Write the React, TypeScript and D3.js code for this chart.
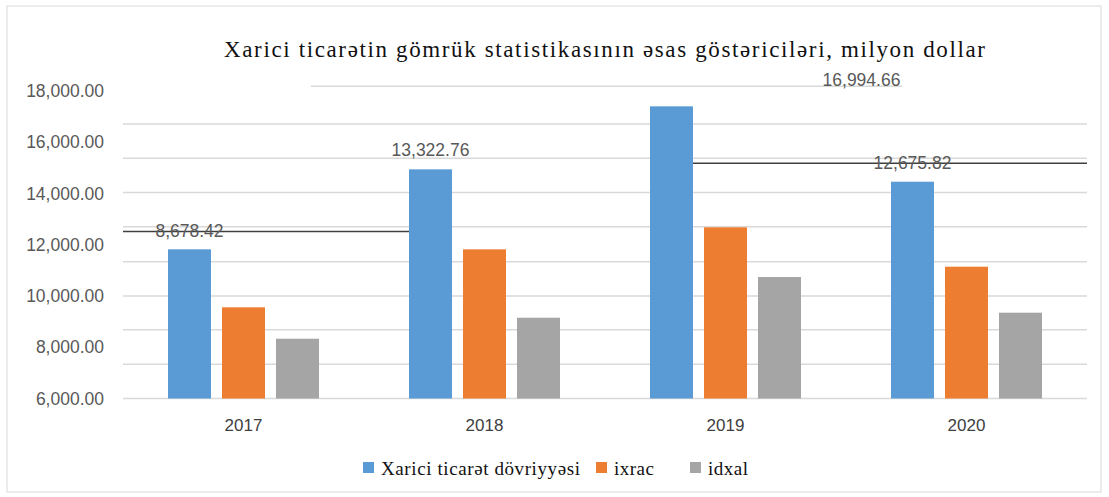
import React from "react";
import * as d3 from "d3";

const years = ["2017", "2018", "2019", "2020"];
const seriesNames = ["Xarici ticarət dövriyyəsi", "ixrac", "idxal"];
const turnover = [11822, 14943, 17402, 14460];
const exportsV = [9559, 11822, 12680, 11143];
const importsV = [8333, 9153, 10741, 9348];
const yTicks = [6000, 8000, 10000, 12000, 14000, 16000, 18000];
const gridValues = [6000, 7340, 8680, 10000, 11340, 12700, 14040, 15380, 16710, 18190];
const labelTexts = ["8,678.42", "13,322.76", "16,994.66", "12,675.82"];
const refLineValues = [12517, 15177];
const title = "Xarici ticarətin gömrük statistikasının əsas göstəriciləri, milyon dollar";

const colors = ["#5B9BD5", "#ED7D31", "#A5A5A5"];
const W = 1109, H = 497;
const plotL = 123, plotR = 1087, plotTop = 91, plotBottom = 398.5;

export default function App() {
  const values = [turnover, exportsV, importsV];
  const x0 = d3.scaleBand<string>().domain(years).range([plotL, plotR]).padding(0);
  const x1 = d3.scaleBand<string>().domain(seriesNames).range([45, 196]).paddingInner(0.204).paddingOuter(0);
  const y = d3.scaleLinear().domain([6000, 18000]).range([plotBottom, plotTop]);
  const fmt = d3.format(",.2f");
  const bw = x1.bandwidth();
  const plotW = plotR - plotL;

  const labelOffsets = [
    { dx: 0, dy: -18 },
    { dx: 0, dy: -19 },
    { dx: 190, dy: -26 },
    { dx: 0, dy: -19 },
  ];

  const legendX = [363, 596, 690];
  const legendLen = [199, 40, 40];
  const legendY = 468;

  return (
    <svg width={W} height={H} style={{ position: "absolute", left: 0, top: 0, background: "#fff" }}>
      <rect x={7} y={6} width={1094} height={486} fill="#fff" stroke="#D9D9D9" strokeWidth={1} />
      <text x={224} y={57} fontFamily="Liberation Serif, Times New Roman, serif" fontSize={23} fill="#111"
        textLength={761} lengthAdjust="spacing">{title}</text>
      {gridValues.map((g, i) => {
        const partial = i === gridValues.length - 1;
        const xa = partial ? plotL + plotW * 0.195 : plotL;
        const xb = partial ? plotL + plotW * 0.808 : plotR;
        return <line key={i} x1={xa} x2={xb} y1={y(g)} y2={y(g)} stroke="#D9D9D9" strokeWidth={1.5} />;
      })}
      {yTicks.map((t) => (
        <text key={t} x={104} y={y(t)} dy="0.35em" textAnchor="end" fontFamily="Liberation Sans, Arial, sans-serif"
          fontSize={17.5} fill="#595959">{fmt(t)}</text>
      ))}
      {years.map((yr, i) => (
        <g key={yr}>
          {values.map((arr, s) => (
            <rect key={s} x={(x0(yr) as number) + (x1(seriesNames[s]) as number)} y={y(arr[i])}
              width={bw} height={y(6000) - y(arr[i])} fill={colors[s]} />
          ))}
          <text x={(x0(yr) as number) + x0.bandwidth() / 2} y={425} dy="0.35em" textAnchor="middle"
            fontFamily="Liberation Sans, Arial, sans-serif" fontSize={17} fill="#404040">{yr}</text>
        </g>
      ))}
      <line x1={plotL} x2={(x0("2018") as number) + (x1(seriesNames[0]) as number)}
        y1={y(refLineValues[0])} y2={y(refLineValues[0])} stroke="#404040" strokeWidth={1.5} />
      <line x1={(x0("2019") as number) + (x1(seriesNames[0]) as number) + bw} x2={plotR}
        y1={y(refLineValues[1])} y2={y(refLineValues[1])} stroke="#404040" strokeWidth={1.5} />
      {years.map((yr, i) => (
        <text key={"l" + yr} x={(x0(yr) as number) + (x1(seriesNames[0]) as number) + bw / 2 + labelOffsets[i].dx}
          y={y(turnover[i]) + labelOffsets[i].dy} dy="0.35em" textAnchor="middle"
          fontFamily="Liberation Sans, Arial, sans-serif" fontSize={17.5} fill="#595959">{labelTexts[i]}</text>
      ))}
      {seriesNames.map((s, i) => (
        <g key={s}>
          <rect x={legendX[i]} y={legendY - 6} width={11} height={11} fill={colors[i]} />
          <text x={legendX[i] + 18} y={legendY} dy="0.35em" fontFamily="Liberation Serif, Times New Roman, serif"
            fontSize={19} fill="#111" textLength={legendLen[i]} lengthAdjust="spacing">{s}</text>
        </g>
      ))}
    </svg>
  );
}
